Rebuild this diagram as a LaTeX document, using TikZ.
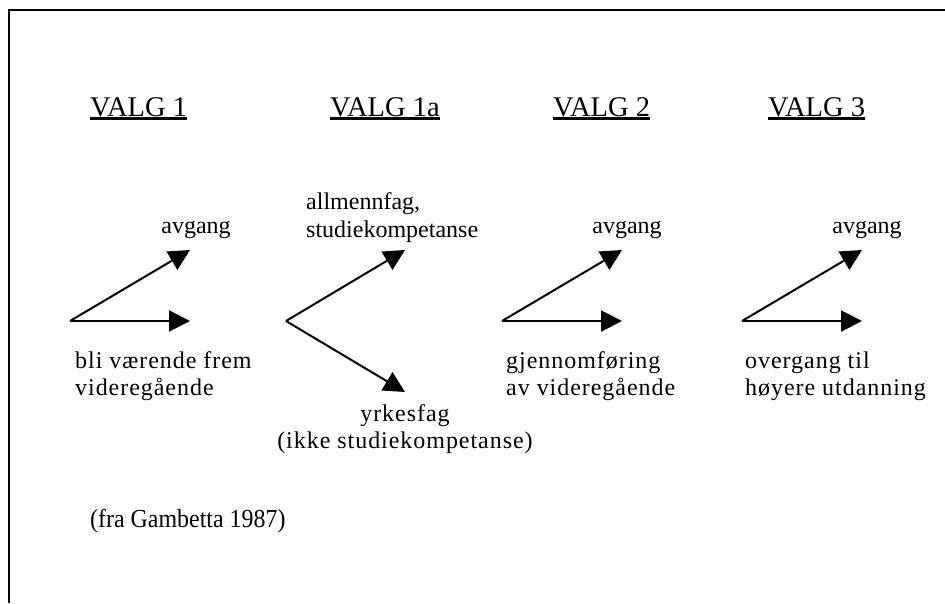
\documentclass[tikz,border=0pt]{standalone}
\usepackage{graphicx}
\usepackage{fontspec}
\setmainfont{Liberation Serif}
\newfontfamily\spacedfont[LetterSpace=4]{Liberation Serif}
\usetikzlibrary{arrows.meta}
\begin{document}
\begin{tikzpicture}[x=1pt,y=-1pt,
  frameline/.style={line width=2pt},
  flow/.style={line width=2pt,-{Triangle[length=21pt,width=21pt]}},
  headtxt/.style={inner sep=0pt,anchor=base west,font=\fontsize{28.5}{32}\selectfont},
  uline/.style={line width=2.2pt},
  toptxt/.style={inner sep=0pt,font=\fontsize{24}{27}\selectfont},
  lowtxt/.style={inner sep=0pt,font=\spacedfont\fontsize{24}{27}\selectfont},
  srctxt/.style={inner sep=0pt,anchor=base west,font=\fontsize{26}{30}\selectfont}]
\useasboundingbox (0,0) rectangle (945,603);
% frame (open at right and bottom)
\draw[frameline] (9,603) -- (9,10) -- (945,10);
% headers
\node[headtxt] (v1) at (90,116) {VALG 1};
\node[headtxt] (v1a) at (330,116) {VALG 1a};
\node[headtxt] (v2) at (553,116) {VALG 2};
\node[headtxt] (v3) at (768,116) {VALG 3};
\foreach \n in {v1,v1a,v2,v3}
  \draw[uline] ([yshift=-2.5pt]\n.base west) -- ([yshift=-2.5pt]\n.base east);
% group 1
\coordinate (o1) at (70,321);
\coordinate (u1) at (190,250);
\coordinate (h1) at (190,321);
\draw[flow] (o1) -- (u1);
\draw[flow] (o1) -- (h1);
\node[toptxt,anchor=base] (a1) at (196,233) {avgang};
\node[lowtxt,anchor=base west] (b1) at (75,368) {bli værende frem};
\node[lowtxt,anchor=base west] (b1b) at (75,395) {videregående};
% group 1a
\coordinate (o1a) at (286,321);
\coordinate (u1a) at (405,250);
\coordinate (d1a) at (405,392);
\draw[flow] (o1a) -- (u1a);
\draw[flow] (o1a) -- (d1a);
\node[toptxt,anchor=base west] (a1a) at (306,209) {allmennfag,};
\node[toptxt,anchor=base west] (a1b) at (306,237) {studiekompetanse};
\node[lowtxt,anchor=base] (y1a) at (405,421) {yrkesfag};
\node[lowtxt,anchor=base] (y1b) at (405,448) {(ikke studiekompetanse)};
% group 2
\coordinate (o2) at (502,321);
\coordinate (u2) at (622,250);
\coordinate (h2) at (622,321);
\draw[flow] (o2) -- (u2);
\draw[flow] (o2) -- (h2);
\node[toptxt,anchor=base] (a2) at (627,233) {avgang};
\node[lowtxt,anchor=base west] (b2) at (506,368) {gjennomføring};
\node[lowtxt,anchor=base west] (b2b) at (506,395) {av videregående};
% group 3
\coordinate (o3) at (742,321);
\coordinate (u3) at (862,250);
\coordinate (h3) at (862,321);
\draw[flow] (o3) -- (u3);
\draw[flow] (o3) -- (h3);
\node[toptxt,anchor=base] (a3) at (867,233) {avgang};
\node[lowtxt,anchor=base west] (b3) at (745,368) {overgang til};
\node[lowtxt,anchor=base west] (b3b) at (745,395) {høyere utdanning};
% source
\node[srctxt] (src) at (90,527) {\scalebox{0.92}[1]{(fra Gambetta 1987)}};
\end{tikzpicture}
\end{document}
